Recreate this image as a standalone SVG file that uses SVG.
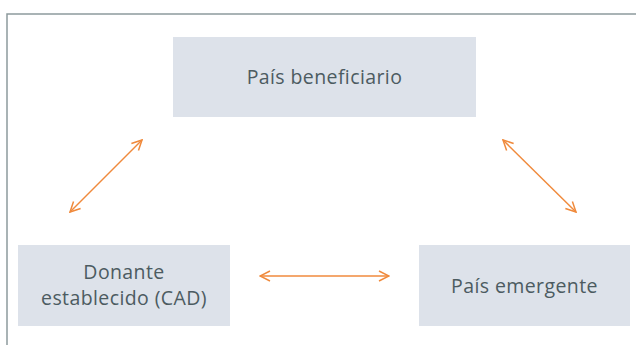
<svg xmlns="http://www.w3.org/2000/svg" width="636" height="345" viewBox="0 0 636 345">
<style>
.box{fill:#dde2ea}
.lbl{font-family:"Open Sans","Noto Sans",sans-serif;font-size:19.5px;letter-spacing:0.4px;fill:#4c5b61;text-anchor:middle}
.con{stroke:#f08a3c;stroke-width:1.5;fill:none;marker-start:url(#ah);marker-end:url(#ah)}
</style>
<defs>
<marker id="ah" viewBox="0 0 12 12" refX="11" refY="6" markerWidth="12" markerHeight="12" markerUnits="userSpaceOnUse" orient="auto-start-reverse">
<path d="M1,1 L11,6 L1,11" fill="none" stroke="#f08a3c" stroke-width="1.5"/>
</marker>
</defs>
<rect width="636" height="345" fill="#fff"/>
<path d="M7,345 V14 H636" fill="none" stroke="#8d9a9d" stroke-width="1.5"/>
<g id="n-beneficiario">
<rect class="box" x="173" y="37" width="303" height="80"/>
<text class="lbl" x="324.5" y="84">País beneficiario</text>
</g>
<g id="n-donante">
<rect class="box" x="18" y="245" width="212" height="81"/>
<text class="lbl" x="124" y="279">Donante</text>
<text class="lbl" x="124" y="305">establecido (CAD)</text>
</g>
<g id="n-emergente">
<rect class="box" x="419" y="245" width="211" height="81"/>
<text class="lbl" x="524.5" y="293">País emergente</text>
</g>
<g id="connectors">
<line class="con" x1="70" y1="212" x2="142" y2="140"/>
<line class="con" x1="503" y1="140" x2="576" y2="212"/>
<line class="con" x1="260" y1="276" x2="389" y2="276"/>
</g>
</svg>
